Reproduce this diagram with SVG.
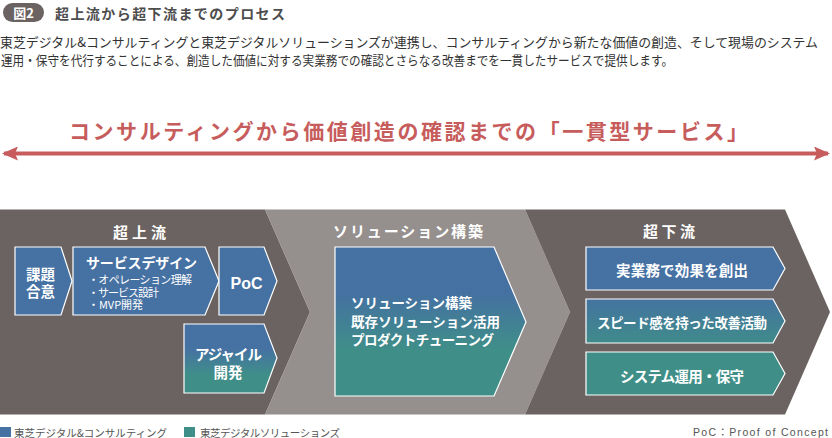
<svg xmlns="http://www.w3.org/2000/svg" width="832" height="438" viewBox="0 0 832 438">
<style>
  text { font-family: "Noto Sans CJK JP", "Noto Sans", sans-serif; dominant-baseline: central; }
  .w { fill: #ffffff; font-weight: bold; }
  .hdr { fill: #ffffff; font-weight: bold; font-size: 15px; text-anchor: middle; }
  .body { fill: #333333; font-size: 13px; }
  .leg { fill: #555555; font-size: 10.5px; }
  .box { stroke: #ffffff; stroke-width: 1.2; }
  .blue { fill: #4671a3; }
  .teal { fill: #3f8f88; }
</style>
<defs>
  <linearGradient id="gBig" x1="0" y1="0" x2="0" y2="1">
    <stop offset="0" stop-color="#4671a3"/>
    <stop offset="0.3" stop-color="#4570a2"/>
    <stop offset="0.7" stop-color="#3f8f88"/>
    <stop offset="1" stop-color="#3f8f88"/>
  </linearGradient>
  <linearGradient id="gAgile" x1="0" y1="0" x2="0" y2="1">
    <stop offset="0" stop-color="#4671a3"/>
    <stop offset="0.35" stop-color="#4671a3"/>
    <stop offset="0.75" stop-color="#3f8f88"/>
    <stop offset="1" stop-color="#3f8f88"/>
  </linearGradient>
  <linearGradient id="gMid" x1="0" y1="0" x2="0" y2="1">
    <stop offset="0" stop-color="#4473a0"/>
    <stop offset="1" stop-color="#3f8b8a"/>
  </linearGradient>
  <marker id="ah" viewBox="0 0 16 14" refX="14" refY="7" markerWidth="16" markerHeight="14" markerUnits="userSpaceOnUse" orient="auto-start-reverse">
    <path d="M0,0 L16,7 L0,14 L3,7 Z" fill="#c75c5c"/>
  </marker>
</defs>

<!-- Title -->
<g id="title">
  <rect x="3" y="3" width="41" height="19" rx="9.5" fill="#6b6361"/>
  <text x="23.5" y="12.5" class="w" font-size="13" text-anchor="middle">図2</text>
  <text x="55" y="13" font-size="14" font-weight="bold" fill="#4d4d4d" textLength="230" lengthAdjust="spacing">超上流から超下流までのプロセス</text>
</g>
<g id="description">
  <text x="0" y="41.5" class="body" textLength="818" lengthAdjust="spacingAndGlyphs">東芝デジタル&amp;コンサルティングと東芝デジタルソリューションズが連携し、コンサルティングから新たな価値の創造、そして現場のシステム</text>
  <text x="1" y="59.5" class="body" textLength="672" lengthAdjust="spacingAndGlyphs">運用・保守を代行することによる、創造した価値に対する実業務での確認とさらなる改善までを一貫したサービスで提供します。</text>
</g>
<g id="heading">
  <text x="69" y="130" font-size="21" font-weight="bold" fill="#c75c5c" textLength="679" lengthAdjust="spacing">コンサルティングから価値創造の確認までの「一貫型サービス」</text>
</g>

<!-- Stage chevrons -->
<g id="stage-upstream">
  <polygon points="0,209.5 265,209.5 310,312 265,414.5 0,414.5" fill="#6b6361"/>
  <text x="139.5" y="231" class="hdr" textLength="53" lengthAdjust="spacing">超上流</text>
</g>
<g id="stage-solution">
  <polygon points="265,209.5 525,209.5 570,312 525,414.5 265,414.5 310,312" fill="#958f8d"/>
  <text x="408" y="230" class="hdr" textLength="150" lengthAdjust="spacing">ソリューション構築</text>
</g>
<g id="stage-downstream">
  <polygon points="525,209.5 785,209.5 830,312 785,414.5 525,414.5 570,312" fill="#6b6361"/>
  <text x="669" y="230" class="hdr" textLength="52" lengthAdjust="spacing">超下流</text>
</g>

<!-- Upstream boxes -->
<g id="node-kadai">
  <polygon class="box blue" points="15,247 61,247 72,281 61,315 15,315"/>
  <text x="40.5" y="273" class="w" font-size="14.5" text-anchor="middle">課題</text>
  <text x="40.5" y="290.5" class="w" font-size="14.5" text-anchor="middle">合意</text>
</g>
<g id="node-service-design">
  <polygon class="box blue" points="73,247 205,247 219,281 205,315 73,315"/>
  <text x="86" y="262" class="w" font-size="14" textLength="111" lengthAdjust="spacing">サービスデザイン</text>
  <text x="88" y="279" fill="#ffffff" font-size="11" textLength="104" lengthAdjust="spacing">・オペレーション理解</text>
  <text x="88" y="291.5" fill="#ffffff" font-size="11" textLength="71" lengthAdjust="spacing">・サービス設計</text>
  <text x="88" y="304" fill="#ffffff" font-size="11" textLength="55" lengthAdjust="spacing">・MVP開発</text>
</g>
<g id="node-poc">
  <polygon class="box blue" points="219,247 264,247 277,281 264,315 219,315"/>
  <text x="246.5" y="283" class="w" font-size="16" text-anchor="middle" style="font-family:'Liberation Sans','Noto Sans',sans-serif">PoC</text>
</g>
<g id="node-agile">
  <polygon class="box" fill="url(#gAgile)" points="184,324 264,324 277,358 264,393 184,393"/>
  <text x="228.5" y="353" class="w" font-size="14.5" text-anchor="middle" textLength="67" lengthAdjust="spacing">アジャイル</text>
  <text x="228" y="371.5" class="w" font-size="14.5" text-anchor="middle">開発</text>
</g>

<!-- Solution box -->
<g id="node-solution">
  <polygon class="box" fill="url(#gBig)" points="335,247 494,247 526,322 494,396 335,396"/>
  <text x="351" y="302" class="w" font-size="13.5" textLength="121" lengthAdjust="spacing">ソリューション構築</text>
  <text x="351" y="320.5" class="w" font-size="13.5" textLength="149" lengthAdjust="spacing">既存ソリューション活用</text>
  <text x="351" y="339" class="w" font-size="13.5" textLength="143" lengthAdjust="spacing">プロダクトチューニング</text>
</g>

<!-- Downstream boxes -->
<g id="node-effect">
  <polygon class="box blue" points="586,247 773,247 785,268.5 773,290 586,290"/>
  <text x="682" y="269" class="w" font-size="14.5" text-anchor="middle" textLength="132" lengthAdjust="spacing">実業務で効果を創出</text>
</g>
<g id="node-improve">
  <polygon class="box" fill="url(#gMid)" points="586,299 773,299 785,321 773,343 586,343"/>
  <text x="682" y="322" class="w" font-size="13.5" text-anchor="middle" textLength="170" lengthAdjust="spacing">スピード感を持った改善活動</text>
</g>
<g id="node-operation">
  <polygon class="box teal" points="586,352 773,352 785,373.5 773,395 586,395"/>
  <text x="682" y="375" class="w" font-size="14.5" text-anchor="middle" textLength="124" lengthAdjust="spacing">システム運用・保守</text>
</g>

<!-- Connectors -->
<g id="connectors">
  <line x1="4" y1="153.5" x2="828" y2="153.5" stroke="#c75c5c" stroke-width="4" marker-start="url(#ah)" marker-end="url(#ah)"/>
</g>

<!-- Legend -->
<g id="legend">
  <rect x="0" y="427" width="11" height="10" class="blue"/>
  <text x="14" y="432" class="leg" textLength="153" lengthAdjust="spacing">東芝デジタル&amp;コンサルティング</text>
  <rect x="184" y="427" width="11" height="10" class="teal"/>
  <text x="200" y="432" class="leg" textLength="140" lengthAdjust="spacing">東芝デジタルソリューションズ</text>
  <text x="693" y="432" class="leg" font-size="11" textLength="135" lengthAdjust="spacing" style="font-family:'Liberation Sans','Noto Sans CJK JP',sans-serif">PoC：Proof of Concept</text>
</g>
</svg>
